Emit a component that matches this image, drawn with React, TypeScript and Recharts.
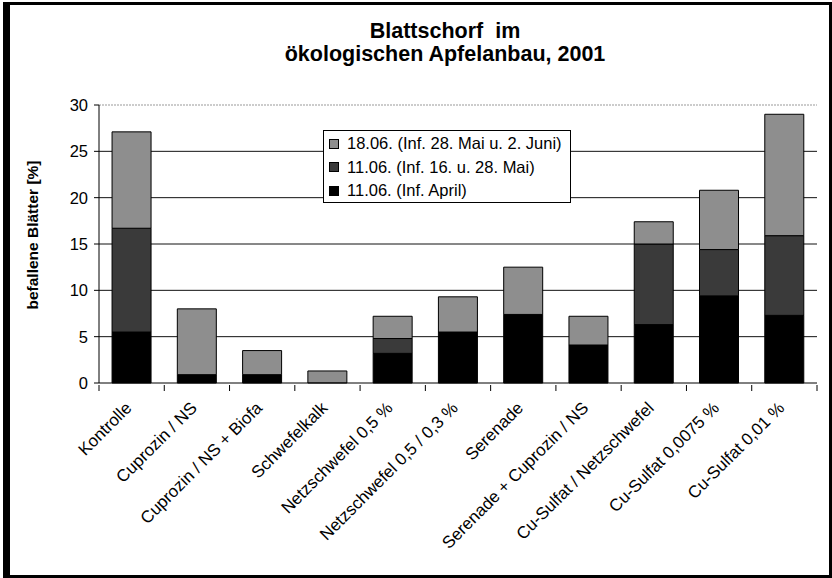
import React from "react";
import {
  BarChart,
  Bar,
  XAxis,
  YAxis,
  CartesianGrid,
  Legend,
  ReferenceLine,
} from "recharts";

const categories = [
  "Kontrolle",
  "Cuprozin / NS",
  "Cuprozin / NS + Biofa",
  "Schwefelkalk",
  "Netzschwefel 0,5 %",
  "Netzschwefel 0,5 / 0,3 %",
  "Serenade",
  "Serenade + Cuprozin / NS",
  "Cu-Sulfat / Netzschwefel",
  "Cu-Sulfat 0,0075 %",
  "Cu-Sulfat 0,01 %",
];
const aprilValues = [5.5, 0.9, 0.9, 0, 3.2, 5.5, 7.4, 4.1, 6.3, 9.4, 7.3];
const maiValues = [11.2, 0, 0, 0, 1.6, 0, 0, 0, 8.7, 5.0, 8.6];
const juniValues = [10.4, 7.1, 2.6, 1.3, 2.4, 3.8, 5.1, 3.1, 2.4, 6.4, 13.1];

const seriesNames = [
  "11.06. (Inf. April)",
  "11.06. (Inf. 16. u. 28. Mai)",
  "18.06. (Inf. 28. Mai u. 2. Juni)",
];
const seriesColors = ["#000000", "#3a3a3a", "#8e8e8e"];
const yTicks = [0, 5, 10, 15, 20, 25, 30];
const gridValues = [5, 10, 15, 20, 25];

const data = categories.map((c, i) => ({
  name: c,
  april: aprilValues[i],
  mai: maiValues[i],
  juni: juniValues[i],
}));

const FONT = "'Liberation Sans', Arial, sans-serif";

const CategoryTick = (props: any) => {
  const { x, y, payload, index, visibleTicksCount } = props;
  const half = payload && payload.offset ? payload.offset : 0;
  return (
    <g>
      <line x1={x - half} y1={y - 8} x2={x - half} y2={y - 2} stroke="#000" />
      {index === visibleTicksCount - 1 ? (
        <line x1={x + half} y1={y - 8} x2={x + half} y2={y - 2} stroke="#000" />
      ) : null}
      <text
        x={x + 1}
        y={y + 16}
        textAnchor="end"
        transform={`rotate(-45 ${x + 1} ${y + 16})`}
        fontFamily={FONT}
        fontSize={17}
        fill="#000"
      >
        {payload.value}
      </text>
    </g>
  );
};

const LegendBox = () => {
  const order = [2, 1, 0];
  return (
    <div
      style={{
        border: "1px solid #000",
        background: "#fff",
        width: 248,
        height: 73,
        boxSizing: "border-box",
        paddingTop: 1,
        fontFamily: FONT,
        fontSize: 16.5,
        color: "#000",
      }}
    >
      {order.map((k) => (
        <div
          key={k}
          style={{ height: 23.5, display: "flex", alignItems: "center" }}
        >
          <span
            style={{
              display: "inline-block",
              width: 10,
              height: 10,
              marginLeft: 5,
              marginRight: 8,
              background: seriesColors[k],
              border: "1px solid #000",
              boxSizing: "border-box",
            }}
          />
          <span style={{ whiteSpace: "nowrap" }}>{seriesNames[k]}</span>
        </div>
      ))}
    </div>
  );
};

export default function App() {
  return (
    <div
      style={{
        position: "absolute",
        left: 0,
        top: 0,
        width: 832,
        height: 578,
        background: "#fff",
        overflow: "hidden",
      }}
    >
      <div
        style={{
          position: "absolute",
          left: 3,
          top: 2,
          width: 829,
          height: 576,
          boxSizing: "border-box",
          borderLeft: "7px solid #000",
          borderTop: "3px solid #000",
          borderRight: "3px solid #000",
          borderBottom: "3px solid #000",
        }}
      />
      <div
        style={{
          position: "absolute",
          left: 245,
          width: 400,
          top: 20,
          textAlign: "center",
          fontFamily: FONT,
          fontWeight: "bold",
          fontSize: 21.5,
          lineHeight: "23px",
          color: "#000",
        }}
      >
        <div>Blattschorf&nbsp; im</div>
        <div>ökologischen Apfelanbau, 2001</div>
      </div>
      <div style={{ position: "absolute", left: 0, top: 0 }}>
        <BarChart
          width={832}
          height={578}
          data={data}
          margin={{ top: 105, right: 15, bottom: 5, left: 59 }}
          barCategoryGap="20%"
        >
          <CartesianGrid
            vertical={false}
            horizontalValues={gridValues}
            stroke="#111"
            strokeWidth={1}
          />
          <ReferenceLine y={30} stroke="#999" strokeDasharray="2 1" />
          <XAxis
            dataKey="name"
            height={190}
            interval={0}
            tickLine={false}
            axisLine={{ stroke: "#000" }}
            tick={<CategoryTick />}
            tickSize={8}
          />
          <YAxis
            domain={[0, 30]}
            ticks={yTicks}
            width={40}
            tickSize={5}
            tickLine={{ stroke: "#000" }}
            axisLine={{ stroke: "#000" }}
            tick={{ fontFamily: FONT, fontSize: 16.5, fill: "#000" }}
            tickMargin={6}
            label={(p: any) => (
              <text
                x={38}
                y={235}
                transform="rotate(-90 38 235)"
                textAnchor="middle"
                fontFamily={FONT}
                fontWeight="bold"
                fontSize={15.5}
                fill="#000"
              >
                befallene Blätter [%]
              </text>
            )}
          />
          <YAxis
            yAxisId="r"
            orientation="right"
            width={0}
            tick={false}
            tickLine={false}
            axisLine={{ stroke: "#999", strokeDasharray: "2 1" }}
          />
          <Legend
            layout="horizontal"
            verticalAlign="middle"
            align="center"
            content={<LegendBox />}
            wrapperStyle={{ left: 323, top: 130, width: 248, height: 73 }}
          />
          <Bar
            dataKey="april"
            stackId="a"
            fill={seriesColors[0]}
            stroke="#000"
            strokeWidth={1}
            isAnimationActive={false}
          />
          <Bar
            dataKey="mai"
            stackId="a"
            fill={seriesColors[1]}
            stroke="#000"
            strokeWidth={1}
            isAnimationActive={false}
          />
          <Bar
            dataKey="juni"
            stackId="a"
            fill={seriesColors[2]}
            stroke="#000"
            strokeWidth={1}
            isAnimationActive={false}
          />
        </BarChart>
      </div>
    </div>
  );
}
